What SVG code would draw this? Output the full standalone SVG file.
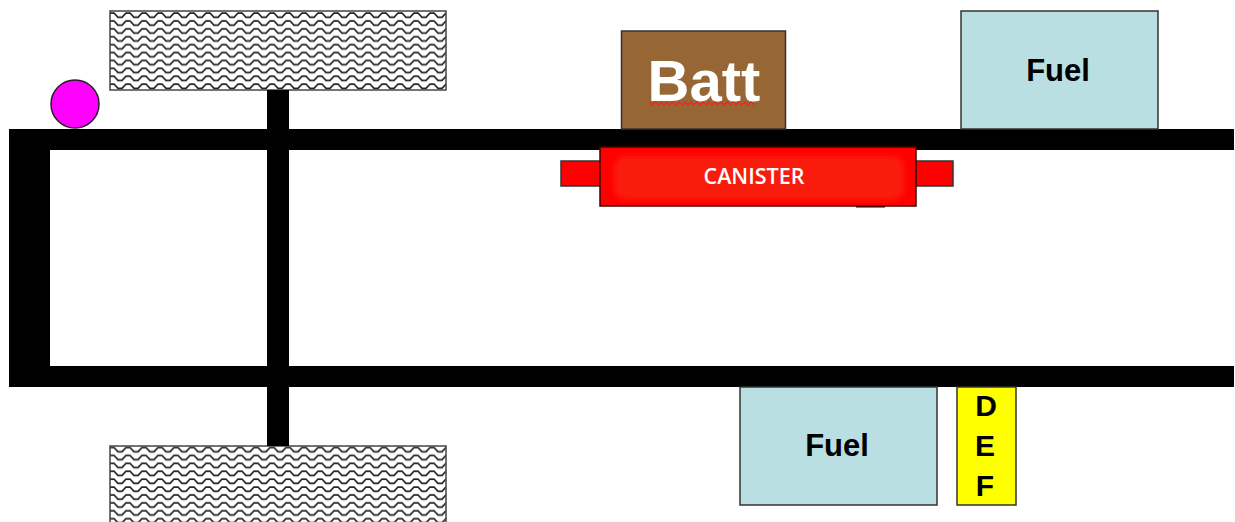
<svg xmlns="http://www.w3.org/2000/svg" width="1235" height="522" viewBox="0 0 1235 522">
<style>
.box{stroke:#333;stroke-width:1.5}
.sans{font-family:"Liberation Sans",Arial,sans-serif;font-weight:bold;text-anchor:middle}
.fuel{fill:#b9dfe3}
.bar{fill:#000}
.wheel{fill:url(#wave);stroke:#444;stroke-width:1.5}
</style>
<defs>
<pattern id="wave" patternUnits="userSpaceOnUse" x="110" y="11" width="16" height="7.9">
<rect width="16" height="7.9" fill="#fff"/>
<path d="M-4 6.300 L0 2 L4 2 L8 6.300 L12 6.300 L16 2 L20 2" fill="none" stroke="#222" stroke-width="1.700"/>
</pattern>
<filter id="soft" x="-5%" y="-20%" width="110%" height="140%"><feGaussianBlur stdDeviation="3.500"/></filter>
</defs>
<rect width="1235" height="522" fill="#fff"/>
<g id="wheel-top"><rect class="wheel" x="110" y="11" width="336" height="79"/></g>
<g id="wheel-bottom"><rect class="wheel" x="110" y="446" width="336" height="80"/></g>
<g id="frame">
<rect class="bar" x="267" y="90" width="22" height="356"/>
<rect class="bar" x="9" y="129" width="1225" height="21"/>
<rect class="bar" x="9" y="366" width="1225" height="21"/>
<rect class="bar" x="9" y="129" width="41" height="258"/>
</g>
<g id="marker"><circle cx="75" cy="104" r="24" fill="#f0f" stroke="#222" stroke-width="1.5"/></g>
<g id="batt">
<rect class="box" x="621.5" y="31" width="164" height="98" fill="#976635" stroke="#222"/>
<text class="sans" x="704" y="101" font-size="58" fill="#fff">Batt</text>
<path d="M649 102 l3 3 l3 -3 l3 3 l3 -3 l3 3 l3 -3 l3 3 l3 -3 l3 3 l3 -3 l3 3 l3 -3 l3 3 l3 -3 l3 3 l3 -3 l3 3 l3 -3 l3 3 l3 -3 l3 3 l3 -3 l3 3 l3 -3 l3 3 l3 -3 l3 3 l3 -3 l3 3 l3 -3 l3 3 l3 -3 l3 3 l3 -3 l3 3" fill="none" stroke="#ea2a22" stroke-width="1.400"/>
</g>
<g id="fuel-top">
<rect class="box fuel" x="961" y="11" width="197" height="118"/>
<text class="sans" x="1058" y="81" font-size="31" fill="#000">Fuel</text>
</g>
<g id="canister">
<rect x="856" y="203" width="29" height="4.500" fill="#000"/>
<rect class="box" x="561" y="161" width="39" height="25" fill="#f00" stroke="#222"/>
<rect class="box" x="916" y="161" width="37" height="25" fill="#f00" stroke="#222"/>
<rect x="600" y="147" width="316" height="59" fill="#f00" stroke="#400" stroke-width="1.500"/>
<rect x="614" y="156" width="290" height="44" rx="12" fill="#f91c10" filter="url(#soft)"/>
<text x="754" y="184" font-family="'Open Sans','Liberation Sans',sans-serif" font-weight="600" font-size="21.500" text-anchor="middle" fill="#fff">CANISTER</text>
</g>
<g id="fuel-bottom">
<rect class="box fuel" x="740" y="387" width="197" height="118"/>
<text class="sans" x="837" y="456" font-size="31" fill="#000">Fuel</text>
</g>
<g id="def">
<rect class="box" x="957" y="387" width="59" height="118" fill="#ff0"/>
<text class="sans" x="986" y="416" font-size="30" fill="#000">D</text>
<text class="sans" x="985" y="456" font-size="30" fill="#000">E</text>
<text class="sans" x="985" y="496" font-size="30" fill="#000">F</text>
</g>
</svg>
